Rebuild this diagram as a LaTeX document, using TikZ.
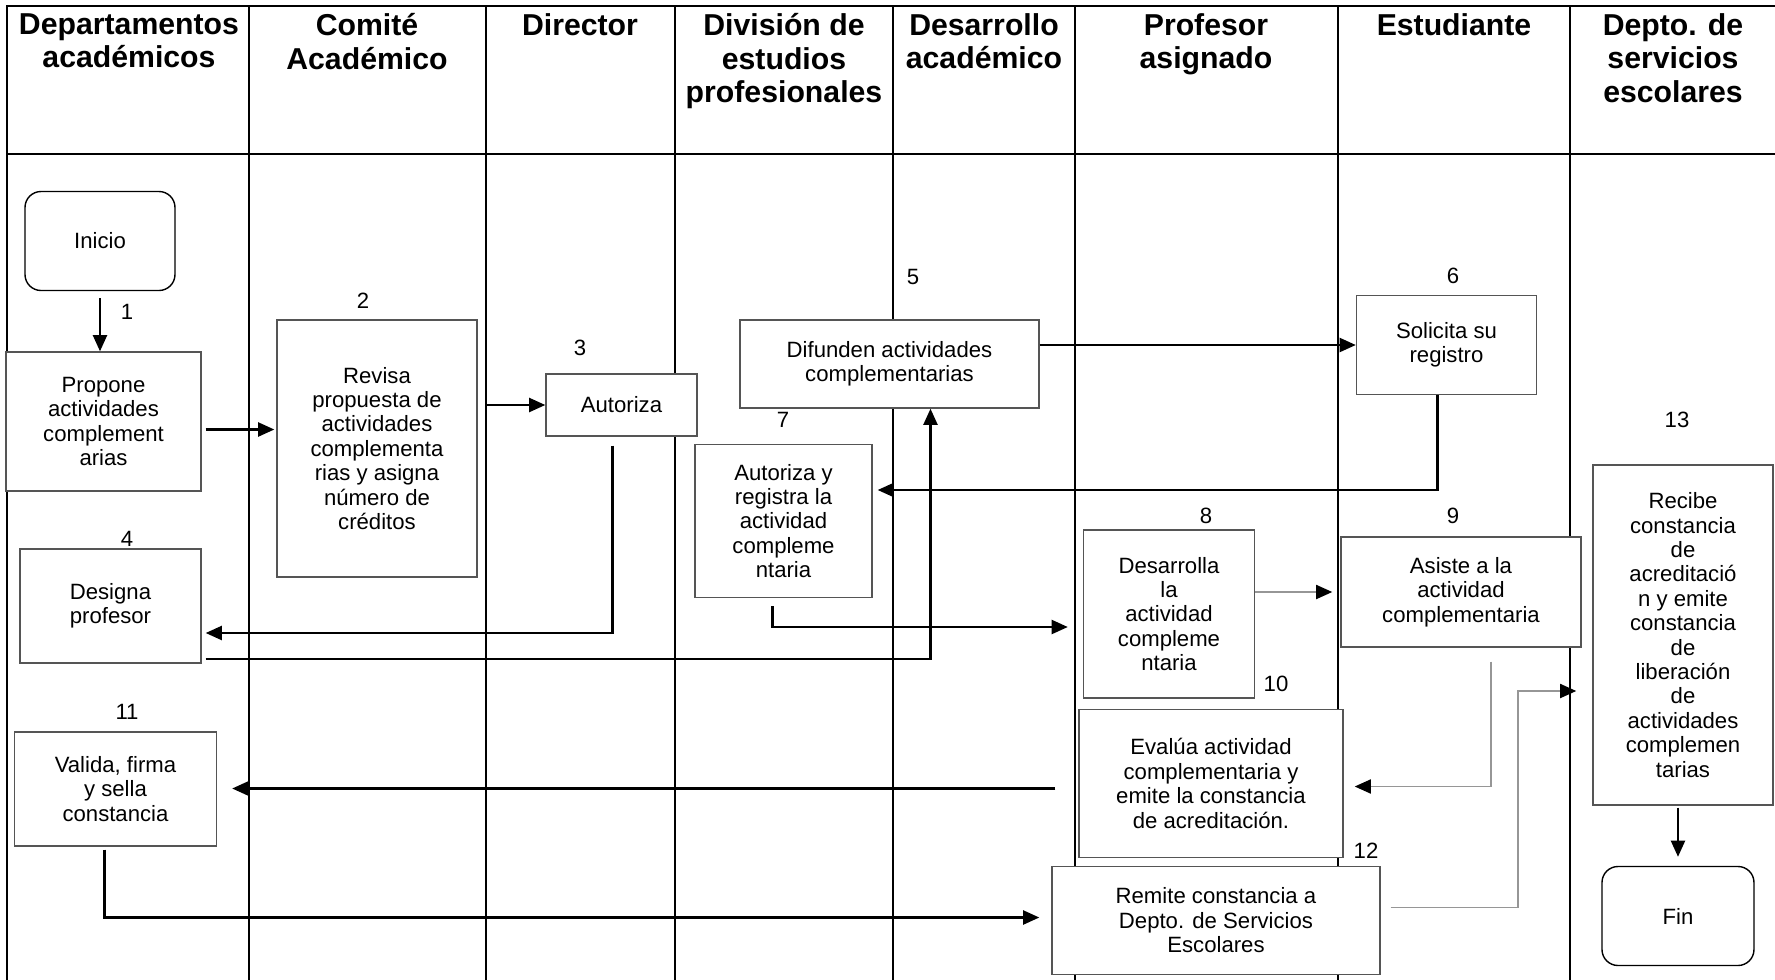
\documentclass[tikz,border=0pt]{standalone}
\usepackage{fontspec}
\setmainfont{Liberation Sans}
\usepackage{tikz}
\usetikzlibrary{arrows.meta, calc, positioning}
\definecolor{boxgray}{RGB}{85,85,85}
\definecolor{softgray}{RGB}{150,150,150}
\newcommand{\headfont}{\fontsize{8.6pt}{9.5pt}\selectfont\bfseries}
\newcommand{\bodyfont}{\fontsize{6.3pt}{6.95pt}\selectfont}

\begin{document}
\begin{tikzpicture}[x=0.1mm, y=-0.1mm, >={Triangle[length=4.6pt,width=4pt]},
  lane/.style={black, line width=0.6pt},
  head/.style={anchor=north, align=center, inner sep=0pt, font=\headfont},
  proc/.style={draw=boxgray, fill=white, line width=0.4pt, align=center, inner sep=1pt, font=\bodyfont},
  term/.style={proc, draw=black, rounded corners=1.6mm},
  num/.style={inner sep=0pt, font=\bodyfont},
  flow/.style={->, black, line width=0.6pt},
  softflow/.style={-{Triangle[length=4.6pt,width=4pt,color=black]}, softgray, line width=0.5pt}]
  \useasboundingbox (0,0) rectangle (1775,980);

  % Swimlane frame
  \draw[lane] (7,980) -- (7,6) -- (1775,6);
  \draw[lane] (7,154) -- (1775,154);
  \foreach \x in {249,486,675,893,1075,1338,1570}
    \draw[lane] (\x,6) -- (\x,980);

  % Lane headers
  \node[head] (hdep) at (129,13) {Departamentos\\académicos};
  \node[head] (hcom) at (367,13) {Comité\\Académico};
  \node[head] (hdir) at (580,13) {Director};
  \node[head] (hdiv) at (784,13) {División de\\estudios\\profesionales};
  \node[head] (hdes) at (984,13) {Desarrollo\\académico};
  \node[head] (hpro) at (1206,13) {Profesor\\asignado};
  \node[head] (hest) at (1454,13) {Estudiante};
  \node[head] (hser) at (1673,13) {Depto. de\\servicios\\escolares};

  % Steps
  \node[term, minimum width=15mm, minimum height=9.9mm] (inicio) at (100,241) {Inicio};
  \node[proc, minimum width=19.5mm, minimum height=13.9mm] (propone) at (103.5,421.5)
    {Propone\\actividades\\complement\\arias};
  \node[proc, minimum width=20mm, minimum height=25.7mm] (revisa) at (377,448.5)
    {Revisa\\propuesta de\\actividades\\complementa\\rias y asigna\\número de\\créditos};
  \node[proc, minimum width=15.1mm, minimum height=6.2mm] (autoriza) at (621.5,405) {Autoriza};
  \node[proc, minimum width=18.1mm, minimum height=11.4mm] (designa) at (110.5,606)
    {Designa\\profesor};
  \node[proc, minimum width=29.9mm, minimum height=8.8mm] (difunden) at (889.5,364)
    {Difunden actividades\\complementarias};
  \node[proc, minimum width=18mm, minimum height=9.9mm] (solicita) at (1446.5,345)
    {Solicita su\\registro};
  \node[proc, minimum width=17.7mm, minimum height=15.3mm] (autreg) at (783.5,521)
    {Autoriza y\\registra la\\actividad\\compleme\\ntaria};
  \node[proc, minimum width=17.1mm, minimum height=16.8mm] (desarrolla) at (1169,614)
    {Desarrolla\\la\\actividad\\compleme\\ntaria};
  \node[proc, minimum width=24mm, minimum height=11mm] (asiste) at (1461,592)
    {Asiste a la\\actividad\\complementaria};
  \node[proc, minimum width=26.4mm, minimum height=14.8mm] (evalua) at (1211,783.5)
    {Evalúa actividad\\complementaria y\\emite la constancia\\de acreditación.};
  \node[proc, minimum width=20.2mm, minimum height=11.4mm] (valida) at (115.5,789)
    {Valida, firma\\y sella\\constancia};
  \node[proc, minimum width=32.8mm, minimum height=10.8mm] (remite) at (1216,920.5)
    {Remite constancia a\\Depto. de Servicios\\Escolares};
  \node[proc, minimum width=18mm, minimum height=34mm] (recibe) at (1683,635)
    {Recibe\\constancia\\de\\acreditació\\n y emite\\constancia\\de\\liberación\\de\\actividades\\complemen\\tarias};
  \node[term, minimum width=15.2mm, minimum height=9.9mm] (fin) at (1678,916) {Fin};

  % Step numbers
  \node[num] (n1) at (127,312) {1};
  \node[num] (n2) at (363,301) {2};
  \node[num] (n3) at (580,348) {3};
  \node[num] (n4) at (127,539) {4};
  \node[num] (n5) at (913,277) {5};
  \node[num] (n6) at (1453,276) {6};
  \node[num] (n7) at (783,420) {7};
  \node[num] (n8) at (1206,516) {8};
  \node[num] (n9) at (1453,516) {9};
  \node[num] (n10) at (1276,684) {10};
  \node[num] (n11) at (127,712) {11};
  \node[num] (n12) at (1366,851) {12};
  \node[num] (n13) at (1677,420) {13};

  % Flow
  \draw[flow] ($(inicio.south)+(0,7)$) -- (inicio.south |- propone.north);
  \draw[flow] ($(propone.east)+(4,8)$) -- ($(propone.east -| revisa.west)+(-2,8)$);
  \draw[flow] ($(autoriza.west -| revisa.east)+(8,0)$) -- (autoriza.west);
  \draw[flow] ($(autoriza.south)+(-9,9)$) |- ($(designa.east)+(4,27)$);
  \draw[flow] ($(designa.east)+(4,53)$) -| ($(difunden.south)+(41,0)$);
  \draw[flow] (difunden.east |- solicita.west) -- (solicita.west);
  \draw[flow] ($(solicita.south)+(-9,0)$) |- ($(autreg.east)+(5,-31)$);
  \draw[flow] ($(autreg.south)+(-11,8)$) |- ($(desarrolla.west)+(-15,13)$);
  \draw[softflow] (desarrolla.east |- asiste.west) -- ($(asiste.west)+(-8,0)$);
  \draw[softflow] ($(asiste.south)+(30,14)$) |- ($(evalua.east)+(11,3)$);
  \draw[flow] ($(evalua.west)+(-23,5)$) -- ($(evalua.west -| valida.east)+(15,5)$);
  \draw[flow] ($(valida.south)+(-11,3)$) |- ($(remite.west)+(-12,-3)$);
  \draw[softflow] ($(remite.east)+(10,-13)$) -| ($(recibe.west)+(-74,56)$)
    -- ($(recibe.west)+(-16,56)$);
  \draw[flow] ($(recibe.south)+(-5,2)$) -- ($(fin.north)+(0,-9)$);
\end{tikzpicture}
\end{document}
